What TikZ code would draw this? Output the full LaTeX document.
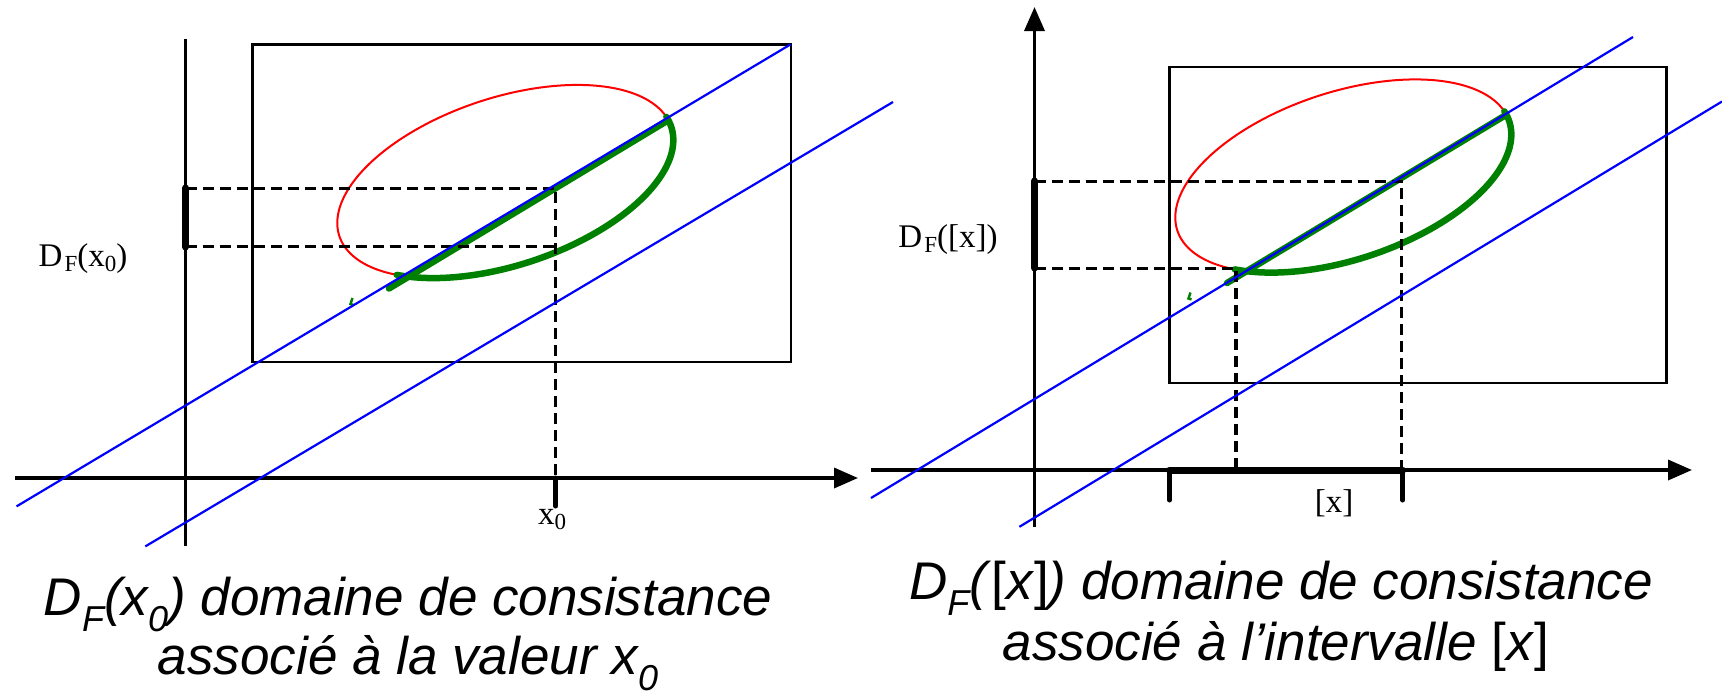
\documentclass[tikz,border=0pt]{standalone}
\usepackage{fontspec}
\setmainfont{Liberation Serif}
\newfontfamily\capfont{Liberation Sans}
\usetikzlibrary{arrows.meta}
\definecolor{dgreen}{RGB}{0,128,0}
\definecolor{pblue}{RGB}{0,0,255}
\definecolor{pred}{RGB}{255,0,0}
\newcommand{\capsub}[1]{\raisebox{-16pt}{\fontsize{36}{36}\selectfont #1}}
\newcommand{\labsub}[1]{\raisebox{-5pt}{\fontsize{23}{23}\selectfont #1}}
\newcommand{\domainshape}{%
  \draw[redarc] plot[domain=7.6:220.8,samples=120,variable=\t]
    ({505.3+174.7*cos(\t)*0.95-83.9*sin(\t)*0.3123},{181.5-174.7*cos(\t)*0.3123-83.9*sin(\t)*0.95});
  \draw[greenarc] plot[domain=220.8:367.6,samples=120,variable=\t]
    ({505.3+174.7*cos(\t)*0.95-83.9*sin(\t)*0.3123},{181.5-174.7*cos(\t)*0.3123-83.9*sin(\t)*0.95});
  \draw[greenarc] (389,288.5) -- (667,121);
  \draw[greentick] (352.5,298) -- (350.5,304) -- (353.5,305);
}
\begin{document}
\begin{tikzpicture}[x=1pt,y=-1pt,
  axisline/.style={line width=3.5pt},
  axisarrow/.style={line width=3.5pt,-{Triangle[length=24pt,width=20pt]}},
  frame/.style={line width=2.5pt},
  bline/.style={pblue,line width=2.2pt},
  redarc/.style={pred,line width=2pt},
  greenarc/.style={dgreen,line width=6.5pt,line cap=round,line join=round},
  greentick/.style={dgreen,line width=2.5pt},
  dashline/.style={line width=3.5pt,dash pattern=on 11pt off 6pt},
  bar/.style={line width=7pt,line cap=round},
  tickmark/.style={line width=5pt,line cap=round},
  lab/.style={inner sep=0pt,font=\fontsize{33}{33}\selectfont},
  captext/.style={inner sep=0pt,font=\capfont\itshape\fontsize{53}{60}\selectfont}
]
\useasboundingbox (0,0) rectangle (1722,697);
% ---------- left panel ----------
\coordinate (lyb) at (185.5,546);
\coordinate (lyt) at (185.5,38.6);
\coordinate (lxl) at (15.4,478);
\coordinate (lxr) at (858,478);
\draw[frame] (252.4,44.3) rectangle (790.8,362);
\draw[axisline] (lyb) -- (lyt);
\draw[axisarrow] (lxl) -- (lxr);
\begin{scope}
  \domainshape
\end{scope}
\draw[dashline] (185.5,188.5) -- (555.7,188.5) -- (555.7,478);
\draw[dashline] (185.5,246.5) -- (555.7,246.5);
\draw[bline] (16.5,506.4) -- (790.7,44.3);
\draw[bline] (145.3,546.4) -- (893,102);
\draw[bar] (185.5,188) -- (185.5,247);
\draw[tickmark] (555.7,478) -- (555.7,506);
\node[lab,anchor=base] (dfx0) at (83,266) {D\kern2pt\labsub{F}(x\labsub{0})};
\node[lab,anchor=base] (x0) at (552,524) {x\labsub{0}};
% ---------- right panel ----------
\coordinate (ryb) at (1034.5,527);
\coordinate (ryt) at (1034.5,7);
\coordinate (rxl) at (871,470);
\coordinate (rxr) at (1692,470);
\draw[frame] (1169.5,66.8) rectangle (1666.3,383.2);
\draw[axisarrow] (ryb) -- (ryt);
\draw[axisarrow] (rxl) -- (rxr);
\begin{scope}[shift={(838,-5.5)}]
  \domainshape
\end{scope}
\draw[dashline] (1034.5,181.5) -- (1401.7,181.5) -- (1401.7,470);
\draw[dashline] (1034.5,268.3) -- (1236,268.3) -- (1236,470);
\draw[bline] (871,498) -- (1633,37);
\draw[bline] (1019.4,526.8) -- (1722,101.5);
\draw[bar] (1034.5,181) -- (1034.5,268);
\draw[bar] (1169.5,470) -- (1402.6,470);
\draw[tickmark] (1169.5,470) -- (1169.5,500);
\draw[tickmark] (1402.6,470) -- (1402.6,500);
\node[lab,anchor=base] (dfxi) at (948,247) {D\kern2pt\labsub{F}([x])};
\node[lab,anchor=base] (xi) at (1334,512) {[x]};
% ---------- captions ----------
\node[captext,anchor=base] (c1a) at (408,615) {D\capsub{F}(x\capsub{0}) domaine de consistance};
\node[captext,anchor=base] (c1b) at (408,674) {associé à la valeur x\capsub{0}};
\node[captext,anchor=base] (c2a) at (1281,599) {D\capsub{F}(\textup{[}x\textup{]}) domaine de consistance};
\node[captext,anchor=base] (c2b) at (1276,660) {associé à l’intervalle \textup{[}x\textup{]}};
\end{tikzpicture}
\end{document}
